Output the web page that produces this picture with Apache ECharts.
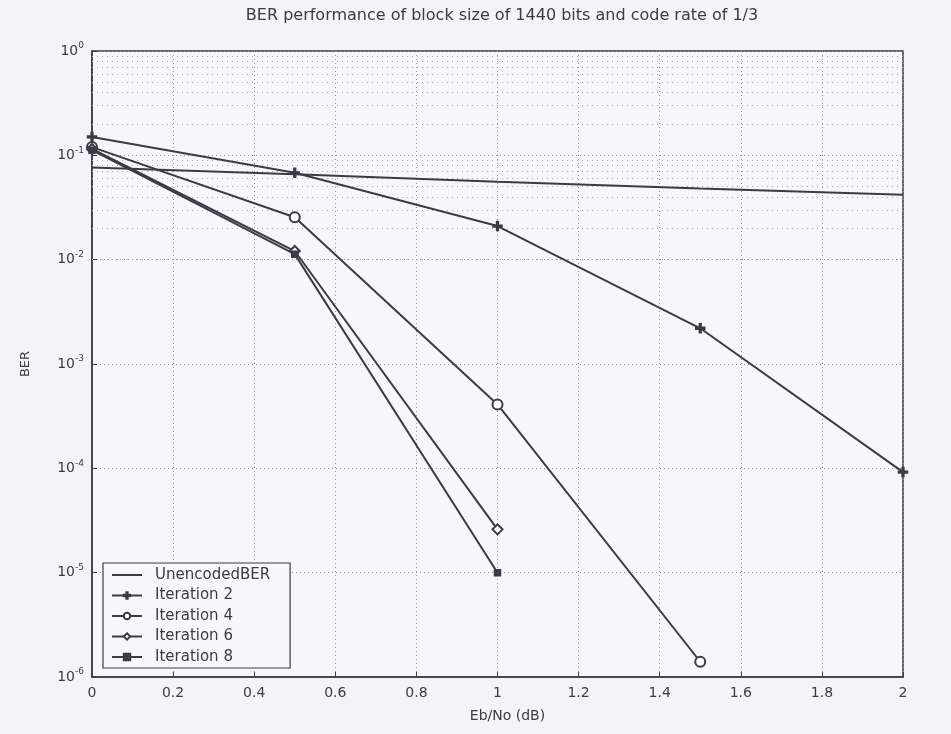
<!DOCTYPE html>
<html><head><meta charset="utf-8">
<script src="https://cdn.jsdelivr.net/npm/echarts@6/dist/echarts.min.js"></script>
<style>html,body{margin:0;padding:0;background:#f3f3f9;}#c{width:951px;height:734px;}</style>
</head><body><div id="c"></div>
<script>
const titleText = 'BER performance of block size of 1440 bits and code rate of 1/3';
const ebno = [0, 0.5, 1, 1.5, 2];
const uncoded = [0.0765, 0.066, 0.0558, 0.048, 0.0418];
const iter2 = [0.15, 0.068, 0.021, 0.0022, 9.2e-5];
const iter4 = [0.12, 0.0255, 4.1e-4, 1.4e-6];
const iter6 = [0.115, 0.0121, 2.6e-5];
const iter8 = [0.112, 0.0113, 1.0e-5];
const seriesNames = ['UnencodedBER', 'Iteration 2', 'Iteration 4', 'Iteration 6', 'Iteration 8'];
const decadeExps = [-6, -5, -4, -3, -2, -1];
const minorMultipliers = [2, 3, 4, 5, 6, 7, 8, 9];

const ink = '#3b3b48';
const font = 'DejaVu Sans, sans-serif';
const pair = (ys) => ys.map((y, i) => [ebno[i], y]);
const plusPath = 'path://M4,0H6V4H10V6H6V10H4V6H0V4H4Z';
const symbols = ['none', plusPath, 'emptyCircle', 'emptyDiamond', 'rect'];
const sizes = [0, 9, 10, 10, 6];
const allData = [uncoded, iter2, iter4, iter6, iter8];

const minorLines = [];
decadeExps.forEach(e => minorMultipliers.forEach(m => minorLines.push({ yAxis: m * Math.pow(10, e) })));

const series = allData.map((d, i) => ({
  name: seriesNames[i], type: 'line', data: pair(d),
  symbol: symbols[i], symbolSize: sizes[i], showSymbol: i > 0,
  lineStyle: { color: ink, width: 2 },
  itemStyle: { color: ink, borderColor: ink, borderWidth: 1.5 },
  z: 5
}));
series[0].markLine = {
  silent: true, symbol: 'none', animation: false,
  label: { show: false },
  lineStyle: { color: '#a8a8b6', type: [1, 4], width: 1 },
  data: minorLines, z: 1
};

const legendData = seriesNames.map((n, i) => i === 0
  ? { name: n, icon: 'path://M0,0H30V2H0Z', itemStyle: { color: ink, borderWidth: 0 } }
  : { name: n });

const chart = echarts.init(document.getElementById('c'));
chart.setOption({
  backgroundColor: '#f3f3f9',
  animation: false,
  textStyle: { fontFamily: font, color: ink },
  title: {
    text: titleText, left: 497, top: 3, textAlign: 'center',
    textStyle: { fontSize: 16, fontWeight: 'normal', color: ink, fontFamily: font }
  },
  grid: {
    left: 92, right: 48, top: 51, bottom: 57,
    show: true, borderColor: ink, borderWidth: 1.5, backgroundColor: '#f7f7fb'
  },
  legend: {
    orient: 'vertical', left: 103, top: 563,
    data: legendData,
    backgroundColor: '#f7f7fb', borderColor: ink, borderWidth: 1.2,
    padding: [3, 20, 2, 8], itemGap: 2.5, itemWidth: 30, itemHeight: 8,
    textStyle: { fontSize: 15, color: ink, fontFamily: font, padding: [0, 0, 0, 8], lineHeight: 18 }
  },
  xAxis: {
    type: 'value', min: 0, max: 2, interval: 0.2,
    name: 'Eb/No (dB)', nameLocation: 'middle', nameGap: 32,
    nameTextStyle: { fontSize: 14, color: ink, fontFamily: font, padding: [0, 0, 0, 20] },
    axisLine: { lineStyle: { color: ink, width: 1.5 } },
    axisTick: { inside: true, length: 5, lineStyle: { color: ink } },
    axisLabel: { fontSize: 14, color: ink, margin: 9, fontFamily: font, formatter: v => String(Math.round(v * 10) / 10) },
    splitLine: { show: true, lineStyle: { color: '#9090a0', type: [1, 3], width: 1 } }
  },
  yAxis: {
    type: 'log', logBase: 10, min: 1e-6, max: 1,
    name: 'BER', nameLocation: 'middle', nameGap: 60,
    nameTextStyle: { fontSize: 13, color: ink, fontFamily: font },
    axisLine: { lineStyle: { color: ink, width: 1.5 } },
    axisTick: { inside: true, length: 5, lineStyle: { color: ink } },
    splitLine: { show: true, lineStyle: { color: '#9090a0', type: [1, 3], width: 1 } },
    axisLabel: {
      fontSize: 14, color: ink, margin: 8, fontFamily: font,
      formatter: v => '10{s|' + Math.round(Math.log10(v)) + '}',
      rich: { s: { fontSize: 9, padding: [0, 0, 10, 0], color: ink, fontFamily: font } }
    }
  },
  series: series
});
</script></body></html>
